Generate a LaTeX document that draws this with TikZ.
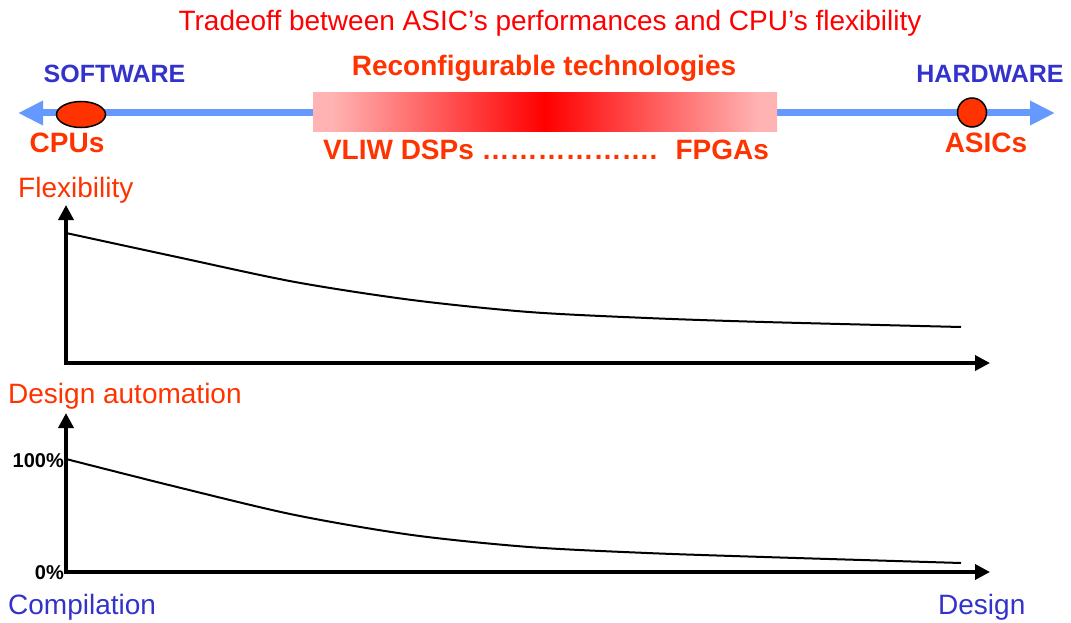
\documentclass[tikz,border=0pt]{standalone}
\usepackage{fontspec}
\setmainfont{Liberation Sans}
\usetikzlibrary{arrows.meta,shapes.geometric}
\definecolor{titlered}{HTML}{FF0000}
\definecolor{tech}{HTML}{FF3300}
\definecolor{side}{HTML}{3333CC}
\definecolor{spec}{HTML}{6699FF}
\definecolor{pinkend}{HTML}{FFB3B3}
% the path is mapped onto the middle half (25bp..75bp) of the shading
\pgfdeclarehorizontalshading{reconf}{100bp}{color(0bp)=(pinkend); color(27bp)=(pinkend); color(50bp)=(red); color(73bp)=(pinkend); color(100bp)=(pinkend)}

\tikzset{
  big/.style={font=\fontsize{28}{32}\selectfont, inner sep=0pt},
  bigbf/.style={font=\fontsize{28}{32}\selectfont\bfseries, inner sep=0pt},
  sidebf/.style={font=\fontsize{25}{30}\selectfont\bfseries, text=side, inner sep=0pt},
  tick/.style={font=\fontsize{20}{24}\selectfont\bfseries, inner sep=0pt, anchor=base east},
  axis/.style={line width=3.5pt, {Triangle[length=15pt,width=15pt]}-{Triangle[length=15pt,width=15pt]}},
  curve/.style={line width=2pt},
  dot/.style={draw=black, line width=1.5pt, fill=tech}
}

\begin{document}
\begin{tikzpicture}[x=1pt,y=-1pt]
\useasboundingbox (0,0) rectangle (1071,623);

% title and the two ends of the spectrum
\node[big, text=titlered, anchor=base] (title) at (550,31) {Tradeoff between ASIC’s performances and CPU’s flexibility};
\node[sidebf, anchor=base] (sw) at (114.5,83) {SOFTWARE};
\node[sidebf, anchor=base] (hw) at (990,83) {HARDWARE};
\node[bigbf, text=tech, anchor=base] (reconf) at (544,76) {Reconfigurable technologies};

% the software/hardware axis
\coordinate (swend) at (18,113);
\coordinate (hwend) at (1055,113);
\draw[spec, line width=7pt, {Triangle[length=25pt,width=23pt]}-{Triangle[length=25pt,width=23pt]}] (swend) -- (hwend);
\node[shading=reconf, minimum width=464pt, minimum height=39pt, inner sep=0pt] (band) at (545,112.5) {};
\node[dot, ellipse, minimum width=49pt, minimum height=26pt, inner sep=0pt] (cpu) at (81,114.5) {};
\node[dot, circle, minimum size=29pt, inner sep=0pt] (asic) at (972,112.5) {};

\node[bigbf, text=tech, anchor=base] (cpus) at (67,153) {CPUs};
\node[bigbf, text=tech, anchor=base] (asics) at (986,153) {ASICs};
\node[bigbf, text=tech, anchor=base] (range) at (546,160) {VLIW DSPs ………………. \ FPGAs};

% flexibility
\node[big, text=tech, anchor=base west] (flex) at (18,197) {Flexibility};
\coordinate (o1) at (66,363);
\coordinate (ytop1) at (66,205);
\coordinate (xend1) at (990,363);
\draw[axis] (ytop1) -- (o1) -- (xend1);
\draw[curve] plot[smooth] coordinates {(66,233) (177,257) (295,282) (412,300) (529,312) (647,318) (764,322) (961,327)};

% design automation
\node[big, text=tech, anchor=base west] (auto) at (8,403) {Design automation};
\coordinate (o2) at (66,572);
\coordinate (ytop2) at (66,413);
\coordinate (xend2) at (990,572);
\draw[axis] (ytop2) -- (o2) -- (xend2);
\draw[curve] plot[smooth] coordinates {(66,459) (177,487) (295,515) (412,535) (529,547) (647,553) (764,557) (961,563)};
\node[tick] (full) at (64,467) {100\%};
\node[tick] (none) at (64,579) {0\%};

\node[big, text=side, anchor=base west] (comp) at (8,614) {Compilation};
\node[big, text=side, anchor=base west] (design) at (938,614) {Design};
\end{tikzpicture}
\end{document}
